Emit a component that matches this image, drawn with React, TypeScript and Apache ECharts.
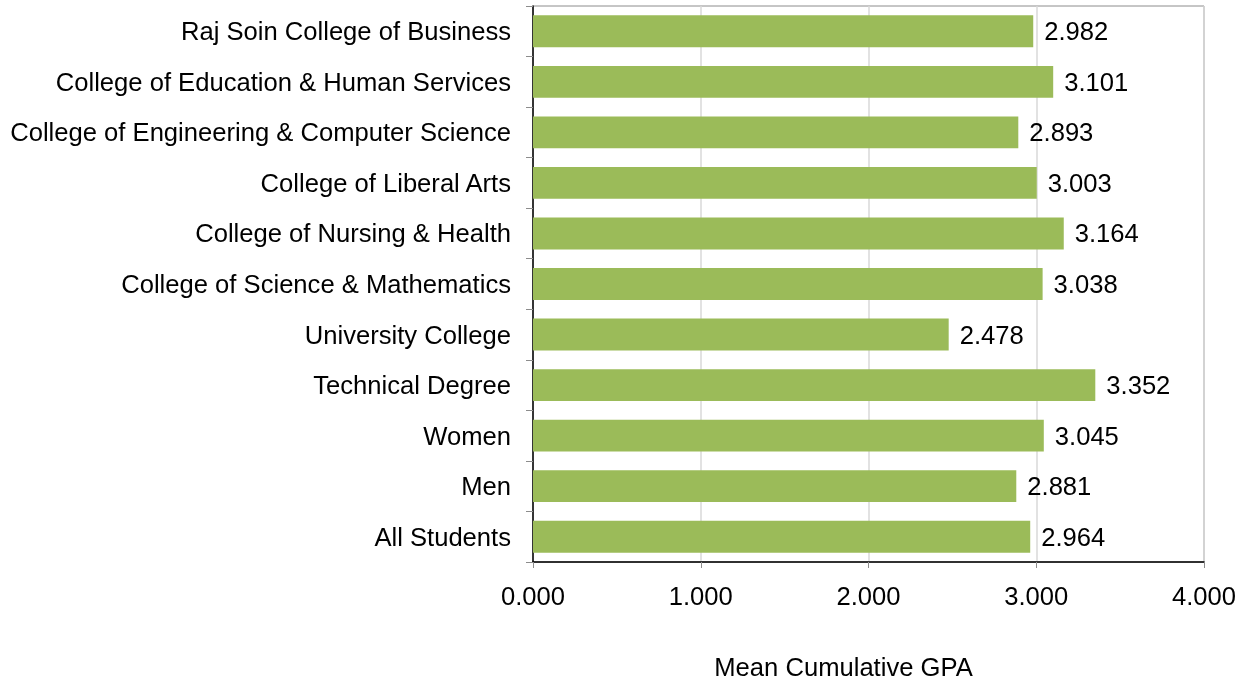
import React, { useEffect, useRef } from "react";
import * as echarts from "echarts";

const categories = [
  "Raj Soin College of Business",
  "College of Education & Human Services",
  "College of Engineering & Computer Science",
  "College of Liberal Arts",
  "College of Nursing & Health",
  "College of Science & Mathematics",
  "University College",
  "Technical Degree",
  "Women",
  "Men",
  "All Students",
];
const values = [2.982, 3.101, 2.893, 3.003, 3.164, 3.038, 2.478, 3.352, 3.045, 2.881, 2.964];
const xTicks = [0, 1, 2, 3, 4];

export default function App() {
  const ref = useRef<HTMLDivElement>(null);
  useEffect(() => {
    if (!ref.current) return;
    const chart = echarts.init(ref.current, undefined, { renderer: "svg" });
    const font = "Liberation Sans, Arial, sans-serif";
    const fs = 25.6;
    chart.setOption({
      animation: false,
      grid: {
        left: 533,
        right: 45,
        top: 6,
        bottom: 121,
        show: true,
        borderColor: "#8c8c8c",
        borderWidth: 1,
        containLabel: false,
      },
      xAxis: {
        type: "value",
        min: xTicks[0],
        max: xTicks[xTicks.length - 1],
        interval: 1,
        name: "Mean Cumulative GPA",
        nameLocation: "middle",
        nameGap: 92,
        nameTextStyle: {
          fontFamily: font,
          fontSize: fs,
          color: "#000",
          padding: [0, 50, 0, 0],
        },
        axisLine: { show: true, lineStyle: { color: "#000", width: 1.5 } },
        axisTick: { show: true, length: 6, lineStyle: { color: "#8c8c8c" } },
        axisLabel: {
          fontFamily: font,
          fontSize: fs,
          color: "#000",
          margin: 21,
          formatter: (v: number) => v.toFixed(3),
        },
        splitLine: { show: true, lineStyle: { color: "#d9d9d9", width: 1.5 } },
      },
      yAxis: {
        type: "category",
        data: categories,
        inverse: true,
        axisLine: { show: true, lineStyle: { color: "#000", width: 1.5 } },
        axisTick: { show: true, length: 7, lineStyle: { color: "#8c8c8c" } },
        axisLabel: { fontFamily: font, fontSize: fs, color: "#000", margin: 22 },
        splitLine: { show: false },
      },
      series: [
        {
          type: "bar",
          data: values,
          barWidth: "63%",
          itemStyle: { color: "#9BBB59" },
          label: {
            show: true,
            position: "right",
            distance: 11,
            fontFamily: font,
            fontSize: fs,
            color: "#000",
            formatter: (p: any) => p.value.toFixed(3),
          },
        },
      ],
    });
    return () => chart.dispose();
  }, []);
  return (
    <div
      ref={ref}
      style={{ position: "fixed", left: 0, top: 0, width: 1249, height: 685 }}
    />
  );
}
